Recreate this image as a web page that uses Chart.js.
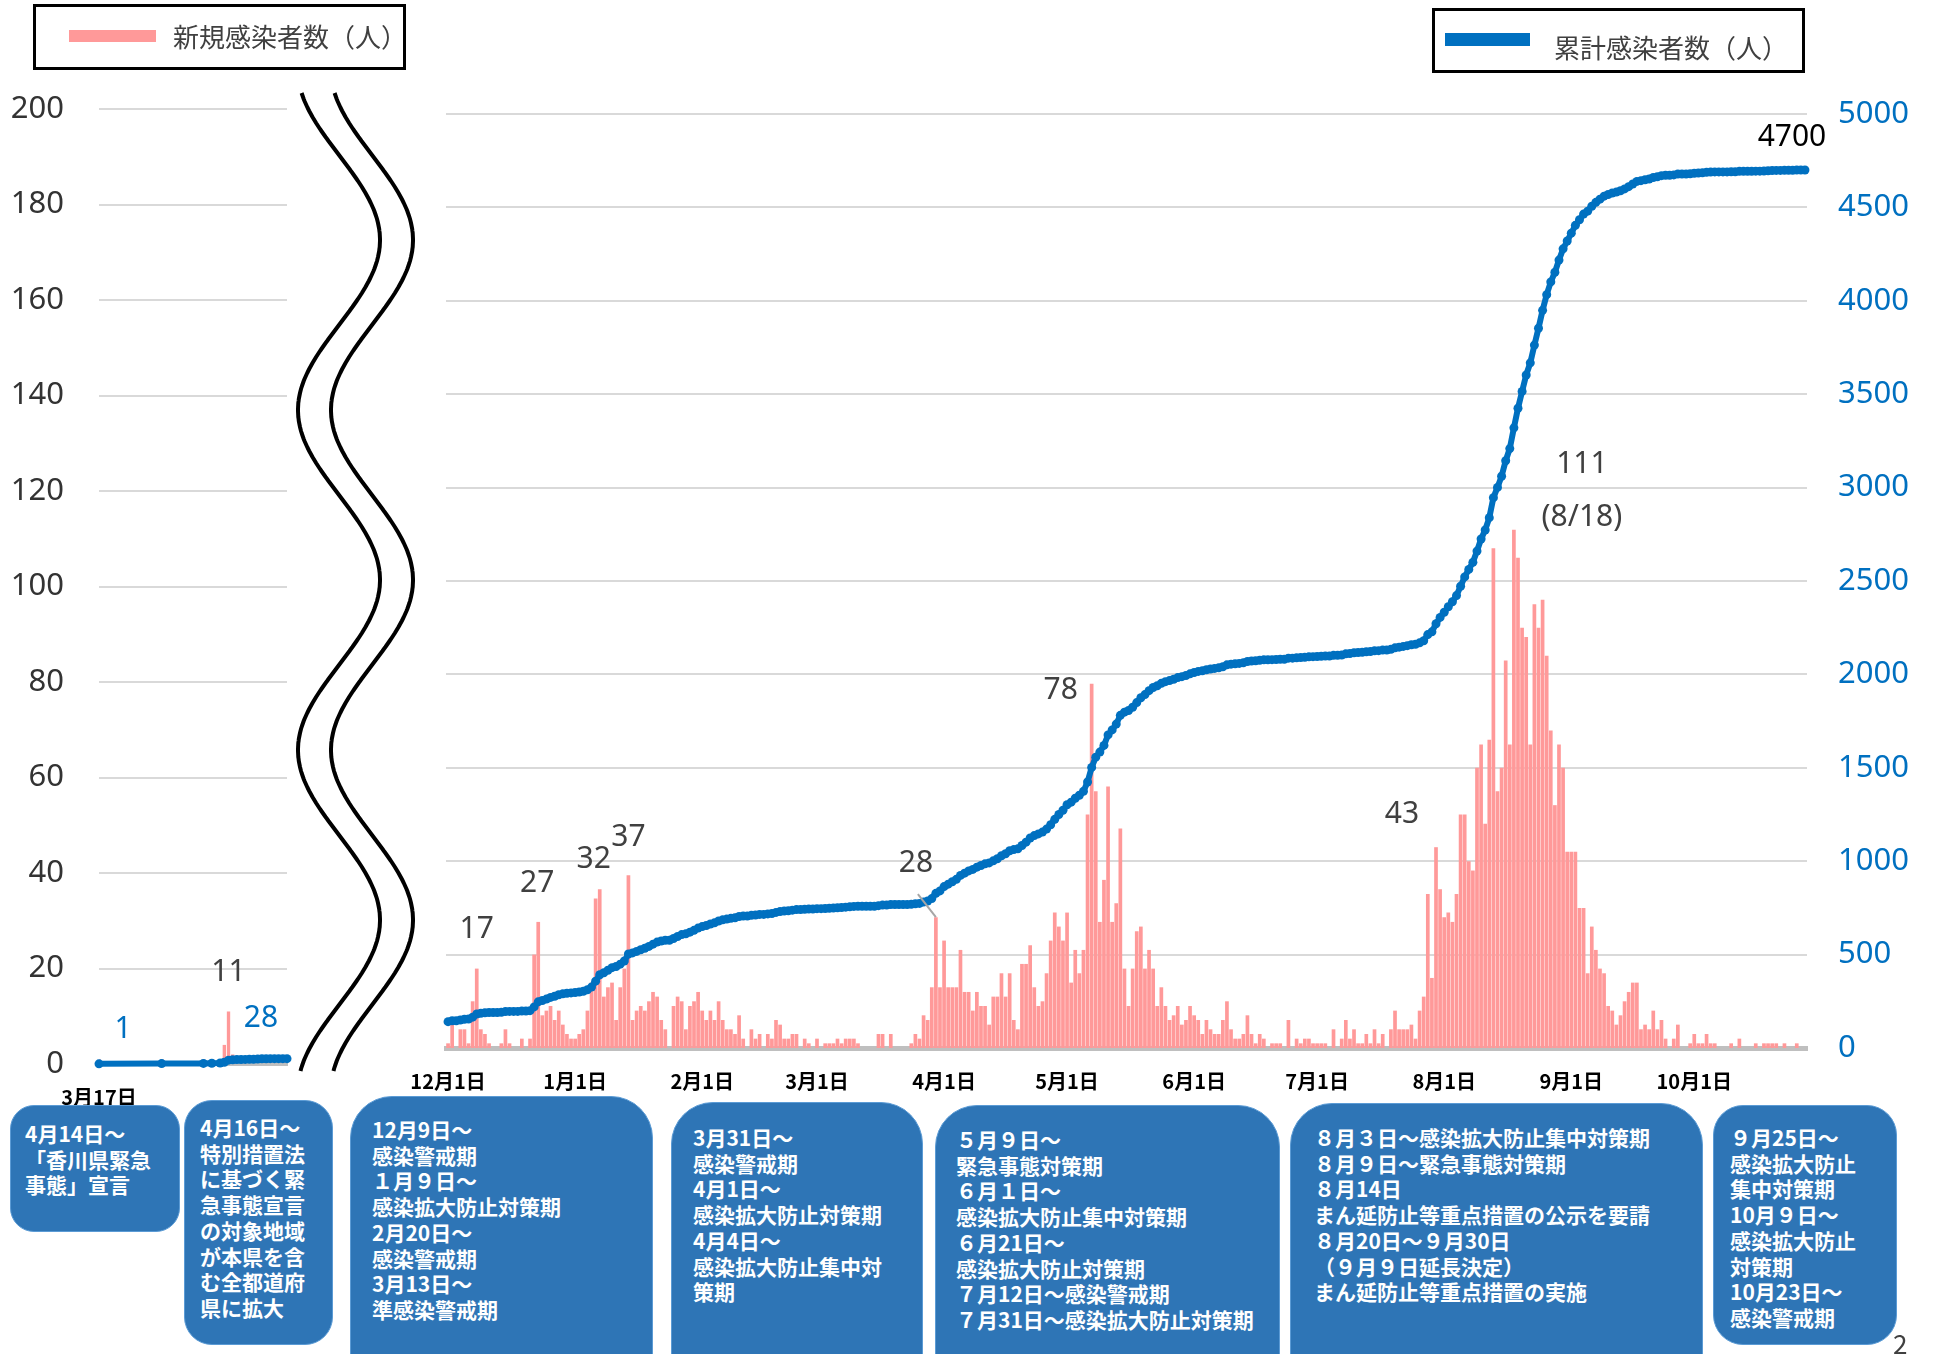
<!DOCTYPE html>
<html lang="ja">
<head>
<meta charset="utf-8">
<script src="https://cdn.jsdelivr.net/npm/chart.js@4.4.1/dist/chart.umd.min.js"></script>
<style>
html,body{margin:0;padding:0;background:#fff;}
body{width:1934px;height:1354px;position:relative;overflow:hidden;font-family:"Noto Sans CJK JP","Noto Sans",sans-serif;}
#leftWrap{position:absolute;left:0;top:0;width:300px;height:1354px;}
#rightWrap{position:absolute;left:300px;top:0;width:1634px;height:1354px;}
#brk{position:absolute;left:0;top:0;}
.legend{position:absolute;border:3px solid #000;background:#fff;box-sizing:border-box;}
.legend .sw{position:absolute;}
.legend .tx{position:absolute;font-size:26px;color:#404040;white-space:nowrap;line-height:1;}
.box{position:absolute;background:#2E75B6;border:1px solid #5B9BD5;color:#fff;font-weight:bold;font-size:21px;line-height:25.7px;box-sizing:border-box;white-space:nowrap;}
.pg{position:absolute;left:1893px;top:1330px;font-size:26px;color:#404040;line-height:1;}
</style>
</head>
<body>
<div id="leftWrap"><canvas id="leftChart" width="300" height="1354"></canvas></div>
<div id="rightWrap"><canvas id="rightChart" width="1634" height="1354"></canvas></div>
<svg id="brk" width="1934" height="1354"></svg>

<div class="legend" style="left:33px;top:4px;width:373px;height:66px;">
  <div class="sw" style="left:33px;top:23px;width:87px;height:12px;background:#FF9999;"></div>
  <div class="tx" style="left:137px;top:16px;">新規感染者数（人）</div>
</div>
<div class="legend" style="left:1432px;top:8px;width:373px;height:65px;">
  <div class="sw" style="left:10px;top:22px;width:85px;height:13px;background:#0070C0;"></div>
  <div class="tx" style="left:119px;top:23px;">累計感染者数（人）</div>
</div>

<div class="box" style="left:10px;top:1105px;width:170px;height:127px;border-radius:24px;padding:15px 0 0 14px;">4月14日〜<br>「香川県緊急<br>事態」宣言</div>
<div class="box" style="left:184px;top:1100px;width:149px;height:245px;border-radius:28px;padding:14px 0 0 15px;">4月16日〜<br>特別措置法<br>に基づく緊<br>急事態宣言<br>の対象地域<br>が本県を含<br>む全都道府<br>県に拡大</div>
<div class="box" style="left:350px;top:1096px;width:303px;height:300px;border-radius:42px;padding:20px 0 0 21px;">12月9日〜<br>感染警戒期<br>１月９日〜<br>感染拡大防止対策期<br>2月20日〜<br>感染警戒期<br>3月13日〜<br>準感染警戒期</div>
<div class="box" style="left:671px;top:1102px;width:252px;height:300px;border-radius:42px;padding:22px 0 0 21px;">3月31日〜<br>感染警戒期<br>4月1日〜<br>感染拡大防止対策期<br>4月4日〜<br>感染拡大防止集中対<br>策期</div>
<div class="box" style="left:935px;top:1105px;width:345px;height:300px;border-radius:42px;padding:21px 0 0 20px;">５月９日〜<br>緊急事態対策期<br>６月１日〜<br>感染拡大防止集中対策期<br>６月21日〜<br>感染拡大防止対策期<br>７月12日〜感染警戒期<br>７月31日〜感染拡大防止対策期</div>
<div class="box" style="left:1290px;top:1103px;width:413px;height:300px;border-radius:42px;padding:21px 0 0 23px;">８月３日〜感染拡大防止集中対策期<br>８月９日〜緊急事態対策期<br>８月14日<br>まん延防止等重点措置の公示を要請<br>８月20日〜９月30日<br>（９月９日延長決定）<br>まん延防止等重点措置の実施</div>
<div class="box" style="left:1713px;top:1105px;width:184px;height:240px;border-radius:30px;padding:19px 0 0 16px;">９月25日〜<br>感染拡大防止<br>集中対策期<br>10月９日〜<br>感染拡大防止<br>対策期<br>10月23日〜<br>感染警戒期</div>
<div class="pg">2</div>

<script>
// ---------- Left panel (2020) ----------
const leftTickLabel = '3月17日';
const leftDay  = [0, 15, 25, 27, 29, 30, 31, 32, 33, 34, 35, 36, 37, 38, 39, 40, 41, 42, 43, 44, 45];
const leftNew  = [1, 1, 1, 1, 1, 4, 11, 2, 1, 0, 1, 1, 0, 1, 1, 0, 1, 0, 0, 1, 0];
const leftCum  = [1, 2, 3, 4, 5, 9, 20, 22, 23, 23, 24, 25, 25, 26, 27, 27, 28, 28, 28, 28, 28];

// ---------- Right panel (2020/12/1 - 2021/10/28) : daily new cases ----------
const monthNums = [12, 1, 2, 3, 4, 5, 6, 7, 8, 9, 10];
const newDec = [1,5,0,4,4,1,10,17,4,3,1,0,0,1,4,1,0,0,2,0,2,20,27,7,8,9,6,8,5,3,2];
const newJan = [2,3,4,8,14,32,34,11,13,14,6,13,17,37,6,8,9,8,10,12,11,6,4,0,9,11,10,4,9,10,12];
const newFeb = [8,6,8,6,10,6,4,4,3,7,2,0,4,2,3,0,3,2,6,5,2,2,3,3,0,2,1,0];
const newMar = [2,0,1,1,1,2,1,2,2,2,1,0,0,0,0,3,3,0,3,0,0,0,0,1,3,2,7,6,13,28,13];
const newApr = [23,13,13,13,21,12,12,8,12,9,9,5,11,11,16,11,16,6,4,18,18,22,13,9,10,16,23,29,26,23];
const newMay = [29,14,21,16,21,50,78,55,27,36,56,27,31,47,17,9,17,25,26,17,21,17,9,13,9,6,7,9,5,6,9];
const newJun = [7,6,3,6,4,3,3,6,10,4,2,2,3,7,3,1,3,2,0,1,1,1,0,6,0,2,1,2,2,1];
const newJul = [1,1,1,0,4,0,2,6,2,4,1,1,3,1,4,1,3,0,4,8,4,4,4,5,2,8,11,33,15,43,34];
const newAug = [28,29,27,33,50,50,40,38,60,65,48,66,107,55,60,83,65,111,105,90,88,65,95,90,96,84,68,52,65,60,42];
const newSep = [42,42,30,30,16,26,21,17,16,9,8,5,7,10,12,14,14,4,5,4,8,4,6,2,0,2,5,0,0,1];
const newOct = [3,1,1,3,1,1,0,0,0,1,0,2,0,0,0,1,0,1,1,1,1,0,1,0,0,1,0,0];
const cumBeforeDec1 = 140;
const monthTicks = ['12月1日','1月1日','2月1日','3月1日','4月1日','5月1日','6月1日','7月1日','8月1日','9月1日','10月1日'];

// notes on bars (by date)
const barNotes = [
  {date:'12月8日',  dx:0,   dy:-39},
  {date:'12月23日', dx:-1,  dy:-38},
  {date:'1月6日',   dx:-2,  dy:-39},
  {date:'1月14日',  dx:0,   dy:-38},
  {date:'3月30日',  dx:-20, dy:-54, leader:[-18,-23]},
  {date:'5月7日',   dx:-31, dy:7},
  {date:'7月30日',  dx:-34, dy:-33},
  {date:'8月18日',  dx:68,  dy:-65, sub:'(8/18)', subDy:-12}
];

// ---------- build ----------
const monthArrays = [newDec,newJan,newFeb,newMar,newApr,newMay,newJun,newJul,newAug,newSep,newOct];
const dayLabels = [];
monthArrays.forEach((arr, k) => arr.forEach((v, d) => dayLabels.push(monthNums[k] + '月' + (d + 1) + '日')));
const newCases = [].concat(...monthArrays);
let run = cumBeforeDec1;
const cumTotals = newCases.map(v => (run += v));

const FONT = '"Noto Sans CJK JP", "Noto Sans", sans-serif';
const NUMFONT = '"Noto Sans", "Noto Sans CJK JP", sans-serif';

const rightNotes = {
  id: 'rightNotes',
  afterDatasetsDraw(chart) {
    const ctx = chart.ctx, xs = chart.scales.x, yb = chart.scales.yBar, yc = chart.scales.yCum;
    ctx.save();
    ctx.font = '30px ' + NUMFONT;
    ctx.fillStyle = '#404040';
    ctx.textAlign = 'center';
    ctx.textBaseline = 'middle';
    barNotes.forEach(n => {
      const i = dayLabels.indexOf(n.date);
      const px = xs.getPixelForValue(i), py = yb.getPixelForValue(newCases[i]);
      if (n.leader) {
        ctx.strokeStyle = '#A6A6A6'; ctx.lineWidth = 2;
        ctx.beginPath(); ctx.moveTo(px + n.leader[0], py + n.leader[1]); ctx.lineTo(px, py); ctx.stroke();
      }
      ctx.fillText(String(newCases[i]), px + n.dx, py + n.dy);
      if (n.sub) ctx.fillText(n.sub, px + n.dx, py + n.subDy);
    });
    const li = cumTotals.length - 1;
    ctx.fillStyle = '#000';
    ctx.fillText(String(cumTotals[li]), xs.getPixelForValue(li) - 13, yc.getPixelForValue(cumTotals[li]) - 33);
    ctx.restore();
  }
};

new Chart(document.getElementById('rightChart'), {
  data: {
    labels: dayLabels,
    datasets: [
      {type:'line', label:'累計感染者数（人）', data:cumTotals, yAxisID:'yCum',
       borderColor:'#0070C0', backgroundColor:'#0070C0', borderWidth:6,
       pointRadius:4.5, pointHoverRadius:4.5, pointBorderWidth:0, pointBackgroundColor:'#0070C0',
       tension:0, order:1, clip:false},
      {type:'bar', label:'新規感染者数（人）', data:newCases, yAxisID:'yBar',
       backgroundColor:'#FF9999', barPercentage:0.9, categoryPercentage:1, order:2}
    ]
  },
  options: {
    responsive:false, animation:false, devicePixelRatio:1,
    layout:{padding:{left:146, top:114, right:0, bottom:0}},
    plugins:{legend:{display:false}, tooltip:{enabled:false}},
    scales:{
      x:{type:'category', offset:true,
         grid:{display:false, drawTicks:false},
         border:{display:true, color:'#BFBFBF', width:5},
         ticks:{autoSkip:false, maxRotation:0, minRotation:0, padding:21, color:'#000',
                font:{family:FONT, size:20, weight:'bold'},
                callback:(v, i) => monthTicks.includes(dayLabels[i]) ? dayLabels[i] : ''},
         afterFit(s){ s.height = 306; }},
      yBar:{display:false, min:0, max:200},
      yCum:{position:'right', min:0, max:5000,
         ticks:{stepSize:500, color:'#0070C0', padding:31, font:{family:NUMFONT, size:31},
                callback:v => String(v)},
         grid:{color:'#D9D9D9', lineWidth:2, drawTicks:false},
         border:{display:false},
         afterFit(s){ s.width = 127; }}
    }
  },
  plugins:[rightNotes]
});

const leftNotes = {
  id:'leftNotes',
  afterDatasetsDraw(chart){
    const ctx = chart.ctx, xs = chart.scales.x, y = chart.scales.y, yc = chart.scales.yCum;
    ctx.save();
    ctx.font = '30px ' + NUMFONT;
    ctx.textAlign = 'center'; ctx.textBaseline = 'middle';
    ctx.fillStyle = '#0070C0';
    ctx.fillText(String(leftCum[0]), xs.getPixelForValue(leftDay[0]) + 24, yc.getPixelForValue(leftCum[0]) - 34);
    const L = leftCum.length - 1;
    ctx.fillText(String(leftCum[L]), xs.getPixelForValue(leftDay[L]) - 26, yc.getPixelForValue(leftCum[L]) - 40);
    const mi = leftNew.indexOf(Math.max(...leftNew));
    ctx.fillStyle = '#404040';
    ctx.fillText(String(leftNew[mi]), xs.getPixelForValue(leftDay[mi]), y.getPixelForValue(leftNew[mi]) - 39);
    ctx.restore();
  }
};

new Chart(document.getElementById('leftChart'), {
  data: {
    datasets: [
      {type:'line', data:leftDay.map((d,i)=>({x:d, y:leftCum[i]})), yAxisID:'yCum',
       borderColor:'#0070C0', backgroundColor:'#0070C0', borderWidth:6,
       pointRadius:4.5, pointHoverRadius:4.5, pointBorderWidth:0, pointBackgroundColor:'#0070C0',
       tension:0, order:1, clip:false},
      {type:'bar', data:leftDay.map((d,i)=>({x:d, y:leftNew[i]})), yAxisID:'y',
       backgroundColor:'#FF9999', barPercentage:0.8, categoryPercentage:1, order:2}
    ]
  },
  options: {
    responsive:false, animation:false, devicePixelRatio:1,
    layout:{padding:{left:0, top:109, right:13, bottom:0}},
    plugins:{legend:{display:false}, tooltip:{enabled:false}},
    scales:{
      x:{type:'linear', min:0, max:45, offset:false,
         grid:{display:false, drawTicks:false},
         border:{display:true, color:'#BFBFBF', width:4},
         afterBuildTicks(s){ s.ticks = [{value:0}]; },
         ticks:{padding:21, color:'#000', font:{family:FONT, size:20, weight:'bold'},
                callback:() => leftTickLabel},
         afterFit(s){ s.height = 290; }},
      y:{position:'left', min:0, max:200,
         ticks:{stepSize:20, color:'#333', padding:35, font:{family:NUMFONT, size:31}},
         grid:{color:'#D9D9D9', lineWidth:2, drawTicks:false},
         border:{display:false},
         afterFit(s){ s.width = 99; }},
      yCum:{display:false, min:0, max:5000}
    }
  },
  plugins:[leftNotes]
});

// ---------- break marks (decoration) ----------
(function(){
  const svg = document.getElementById('brk');
  const P = 340, yL = 410, A = 41;
  [339, 372].forEach(cx => {
    let d = '';
    for (let yy = 93; yy <= 1072; yy += 2) {
      const xx = cx - A * Math.cos(2 * Math.PI * (yy - yL) / P);
      d += (d ? ' L ' : 'M ') + xx.toFixed(1) + ' ' + yy;
    }
    const p = document.createElementNS('http://www.w3.org/2000/svg', 'path');
    p.setAttribute('d', d); p.setAttribute('fill', 'none');
    p.setAttribute('stroke', '#000'); p.setAttribute('stroke-width', '4');
    svg.appendChild(p);
  });
})();
</script>
</body>
</html>
